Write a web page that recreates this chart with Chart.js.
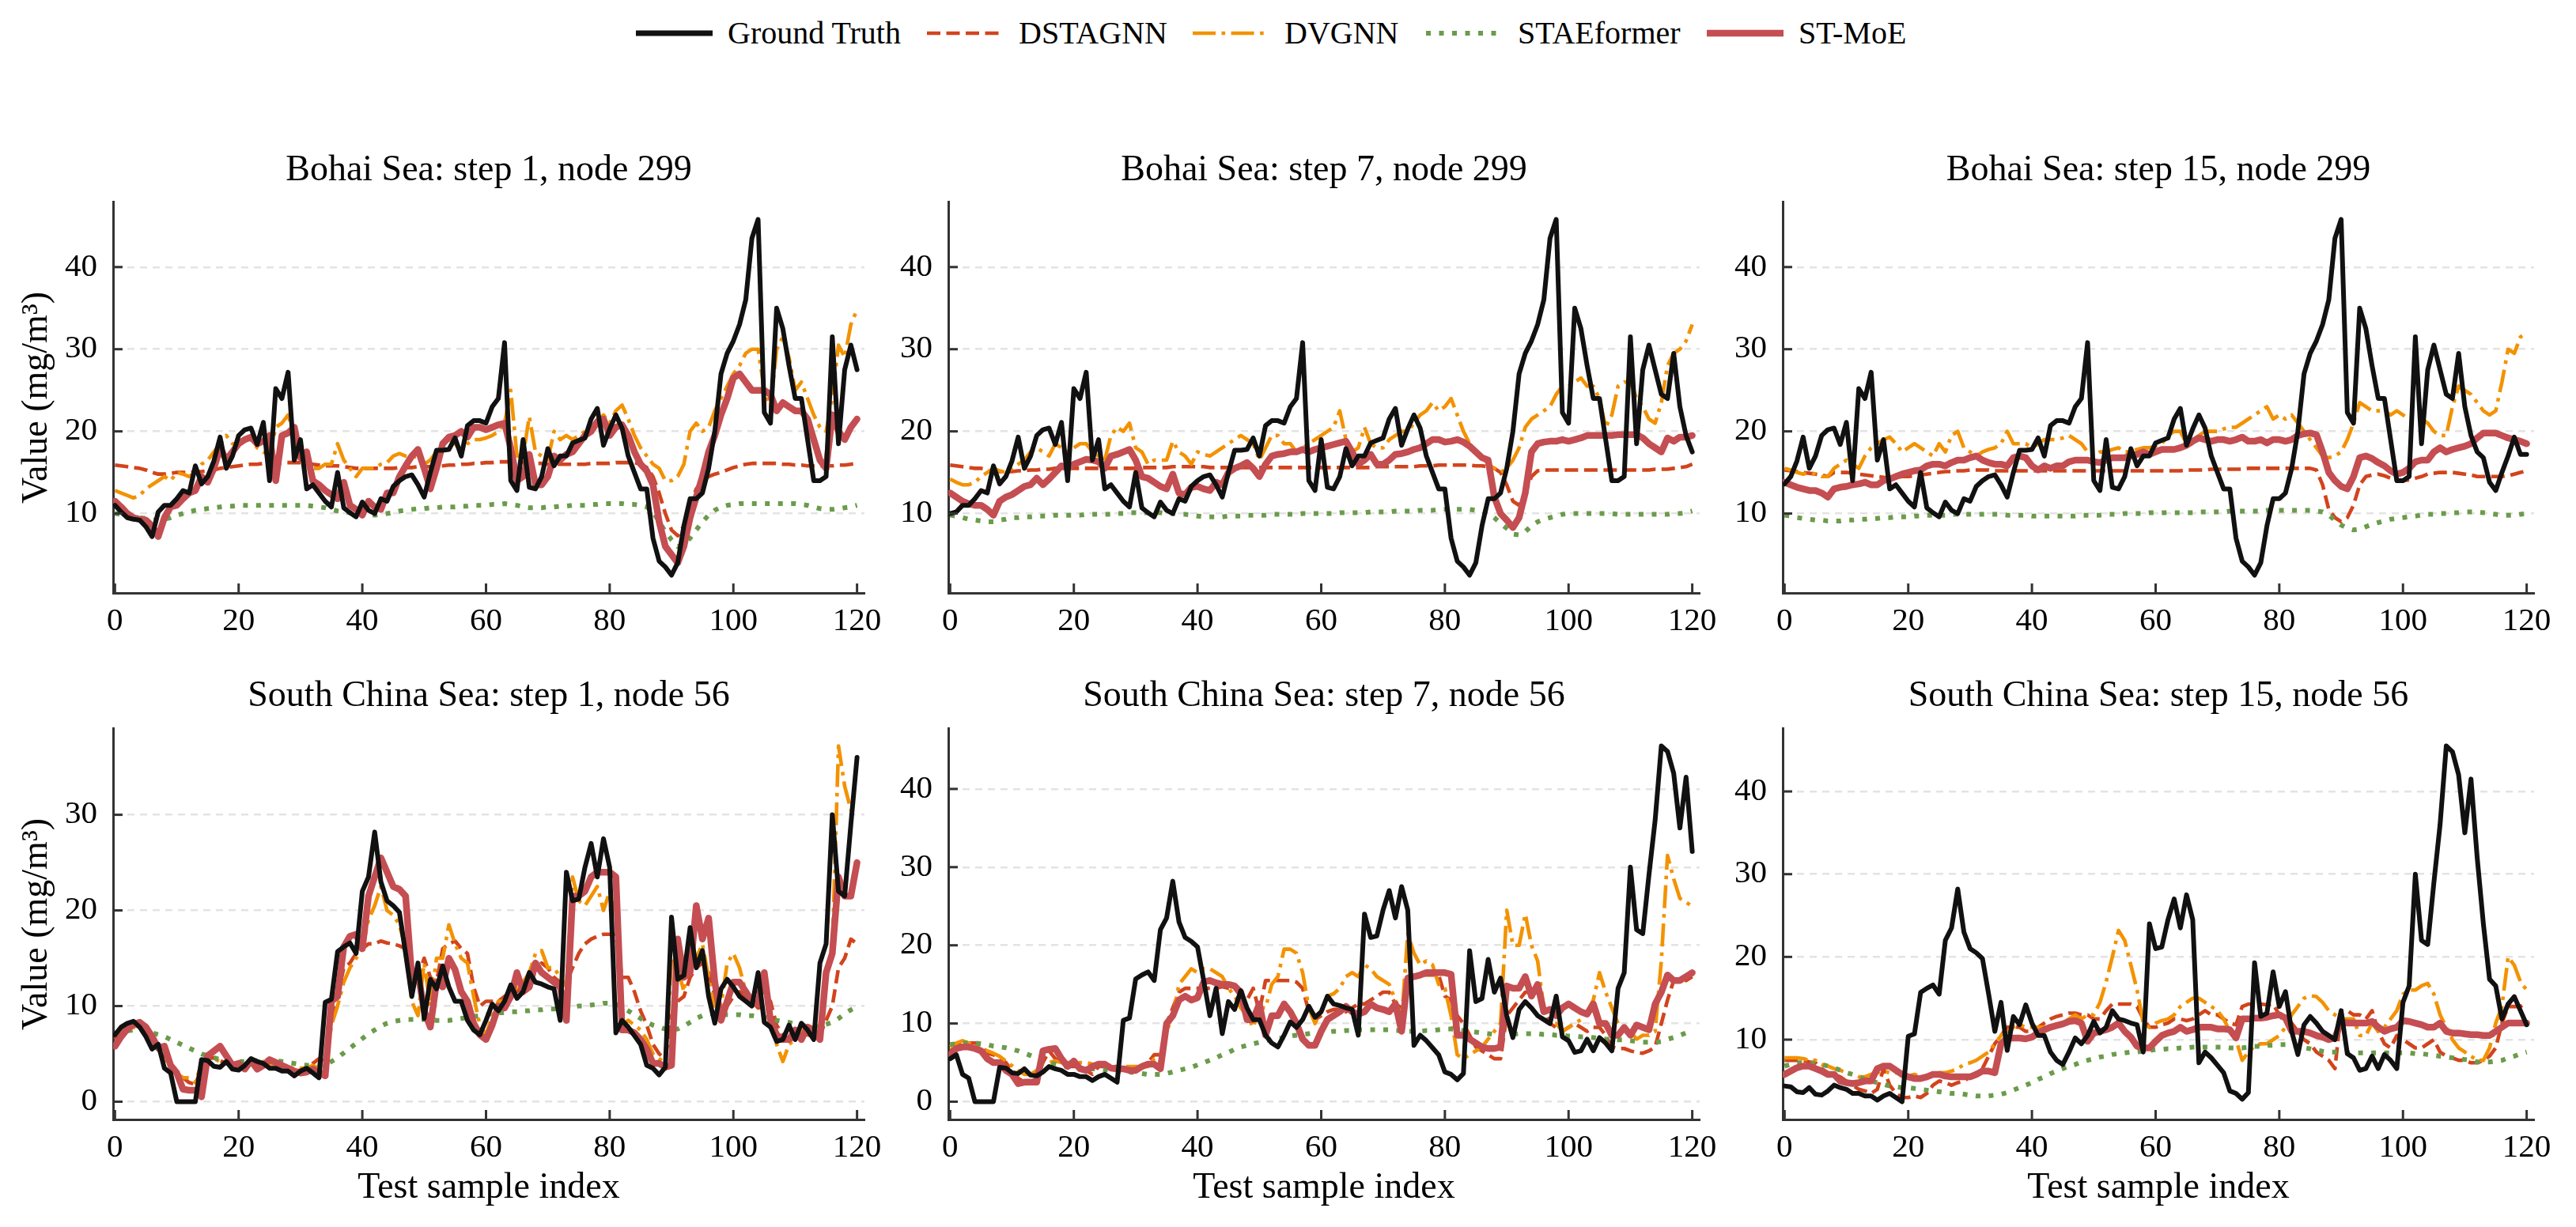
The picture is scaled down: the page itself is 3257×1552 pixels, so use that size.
<!DOCTYPE html>
<html><head><meta charset="utf-8">
<script src="https://cdn.jsdelivr.net/npm/chart.js@4.4.1/dist/chart.umd.min.js"></script>
<style>
html,body{margin:0;padding:0;background:#fff;}
#root{position:relative;width:3257px;height:1552px;overflow:hidden;background:#fff;font-family:"Liberation Serif","Times New Roman",serif;color:#000;}
.txt{position:absolute;white-space:nowrap;line-height:1;}
canvas{position:absolute;}
</style></head><body><div id="root"></div>
<script>
// ---------------- DATA ----------------
const seriesNames = ['Ground Truth','DSTAGNN','DVGNN','STAEformer','ST-MoE'];
const panelTitles = ['Bohai Sea: step 1, node 299','Bohai Sea: step 7, node 299','Bohai Sea: step 15, node 299',
  'South China Sea: step 1, node 56','South China Sea: step 7, node 56','South China Sea: step 15, node 56'];
const xTickValues = [0,20,40,60,80,100,120];
const yAxisLabel = 'Value (mg/m\u00B3)';
const xAxisLabel = 'Test sample index';

// Bohai Sea, step 1
const bohai_s1_gt = [11,10.2,9.5,9.3,9.2,8.4,7.2,10.2,11,11,
 11.8,12.8,12.5,15.8,13.6,14.5,16.4,19.3,15.5,17,
 19.5,20.2,20.4,18.4,21.1,14,25.2,24,27.2,16.5,
 19,13,13.5,12.5,11.5,10.8,15,10.7,10.1,9.6,
 11.4,10.4,10,11.8,11.5,13.3,14,14.5,14.7,13.5,
 12,15,17.7,17.7,17.8,19.2,17,20.7,21.3,21.3,
 21,23,24,30.8,14,12.8,19,13.2,13,14.5,
 17.9,15.8,17,17,18.6,18.9,19.2,21.5,22.8,18.3,
 20.3,22,20.4,17,15,13,13,7,4.2,3.5,
 2.5,4,8.5,11.8,11.8,12.5,15.5,20,27,29.5,
 31,33,36,43.5,45.8,22.3,21,35,32.5,28,
 24,24,19,14,14,14.5,31.5,18.5,27.5,30.5,
 27.5];
const bohai_s1_dstagnn = [15.9,15.8,15.7,15.6,15.5,15.3,15,14.8,14.8,14.9,
 15,15,15,15.1,15.1,15.2,15.3,15.5,15.6,15.7,
 15.8,15.9,16,16,16.1,16.1,16.1,16.2,16.2,16.2,
 16.2,16.1,16,15.9,15.8,15.8,15.8,15.7,15.6,15.5,
 15.5,15.5,15.5,15.5,15.5,15.5,15.6,15.6,15.6,15.7,
 15.7,15.7,15.8,15.8,15.9,15.9,16,16,16.1,16.1,
 16.2,16.2,16.3,16.3,16.3,16.3,16.2,16.2,16.1,16.1,
 16,16,16,16,16,16,16,16.1,16.1,16.1,
 16.1,16.2,16.2,16.2,16.2,16,15.6,14.5,12.5,10,
 8,7.3,8.5,11,13,14,14.5,14.8,15,15.3,
 15.6,15.8,16,16.1,16.1,16.1,16.1,16.1,16,16,
 15.9,15.9,15.8,15.8,15.8,15.8,15.8,15.9,15.9,16,
 16.1];
const bohai_s1_dvgnn = [12.8,12.5,12.2,11.9,12.2,13,13.5,14,14.5,14,
 15,14.8,14.5,15,16,16.5,17.5,18.5,19.5,18.5,
 18.5,19,19,18,17.5,17,20.5,21,22,19.5,
 18,17,15.5,15.5,16,16,18.5,16.5,15.5,14.5,
 15.5,15.5,15.5,16,16.2,17,17.3,17,17,16.8,
 16,16.5,17.5,18.5,19,18.5,17.5,18.5,19,19,
 19.2,19.5,20,21,25,17,17,21.8,17.5,17,
 16.5,20,19,19.5,19,19.5,20,20.5,21,22,
 21,22.5,23.2,21.5,19.5,18,17,16,15.5,14,
 14,14.5,16,20,21,20,20.5,22.5,24,25.5,
 27,28,29.5,30,30,25,23,30,31.5,29,
 25,26,24,22,20.5,20,24,30.5,29,33,
 34.8];
const bohai_s1_staeformer = [10,9.9,9.8,9.6,9.5,9.4,9.2,9.2,9.3,9.5,
 9.8,10,10.2,10.4,10.5,10.6,10.7,10.8,10.9,10.9,
 11,11,11,11,11,11,11,11,11,11,
 11,11,10.9,10.8,10.7,10.5,10.3,10.2,10.1,10,
 10,9.9,9.8,9.9,10,10.1,10.3,10.4,10.5,10.6,
 10.6,10.7,10.7,10.8,10.8,10.8,10.9,10.9,11,11,
 11,11.1,11.1,11.2,11.1,11,10.8,10.7,10.7,10.7,
 10.8,10.8,10.9,10.9,11,11,11,11.1,11.1,11.2,
 11.2,11.2,11.2,11.1,11.1,11,10.8,10.2,9,7.8,
 6.8,6,6.2,7,8,9,9.8,10.4,10.8,11,
 11.1,11.2,11.2,11.2,11.2,11.2,11.2,11.2,11.2,11.2,
 11.2,11.1,11,10.8,10.6,10.5,10.5,10.6,10.7,10.8,
 11];
const bohai_s1_stmoe = [11.5,10.8,10,9.5,9.3,9.2,8.5,7.2,9.5,10.8,
 11,11.8,12.5,12.8,14.5,13.8,15.5,18,16.5,17.5,
 18.5,19,19.3,18.5,18.8,19.5,14,19.5,19.8,20.5,
 16.8,17.5,14,13.5,12.8,12.3,11.8,13.8,11,10.5,
 9.8,11.5,10.8,10.5,12.5,12.5,14.5,15.8,17,17.8,
 15.5,13,15.5,18.5,19.3,19.5,20,19.3,20.5,20.5,
 20.2,20.5,20.8,21,18,14,14.5,17.2,13.5,13.5,
 14.5,17,16.5,17.2,17.5,18.5,19.5,20,21.2,21.5,
 19.5,20.5,20.8,19.5,17.5,16,15.2,13.5,9,6,
 5,4,6,9.5,12,14.5,17.5,19.5,22,24,
 26.5,27,26,25,25,25,24.5,22.5,23.5,23,
 22.5,22.5,21.5,19,16.5,15.5,22,20,19,20.5,
 21.5];

// Bohai Sea, step 7
const bohai_s7_gt = [10,10.2,11,11,11.8,12.8,12.5,15.8,13.6,14.5,
 16.4,19.3,15.5,17,19.5,20.2,20.4,18.4,21.1,14,
 25.2,24,27.2,16.5,19,13,13.5,12.5,11.5,10.8,
 15,10.7,10.1,9.6,11.4,10.4,10,11.8,11.5,13.3,
 14,14.5,14.7,13.5,12,15,17.7,17.7,17.8,19.2,
 17,20.7,21.3,21.3,21,23,24,30.8,14,12.8,
 19,13.2,13,14.5,17.9,15.8,17,17,18.6,18.9,
 19.2,21.5,22.8,18.3,20.3,22,20.4,17,15,13,
 13,7,4.2,3.5,2.5,4,8.5,11.8,11.8,12.5,
 15.5,20,27,29.5,31,33,36,43.5,45.8,22.3,
 21,35,32.5,28,24,24,19,14,14,14.5,
 31.5,18.5,27.5,30.5,27.5,24.5,24,29.5,23,19.5,
 17.5];
const bohai_s7_dstagnn = [15.9,15.8,15.7,15.6,15.5,15.5,15.3,15.1,15.1,15.1,
 15.1,15.2,15.2,15.3,15.3,15.4,15.4,15.5,15.5,15.5,
 15.5,15.5,15.5,15.5,15.5,15.5,15.5,15.5,15.5,15.5,
 15.5,15.6,15.6,15.6,15.6,15.6,15.7,15.7,15.7,15.7,
 15.7,15.7,15.6,15.6,15.6,15.6,15.6,15.6,15.6,15.6,
 15.6,15.6,15.6,15.6,15.6,15.6,15.6,15.6,15.6,15.6,
 15.6,15.6,15.6,15.6,15.6,15.6,15.6,15.6,15.6,15.7,
 15.7,15.7,15.7,15.7,15.7,15.7,15.8,15.8,15.8,15.9,
 15.9,15.9,15.9,15.9,15.9,15.8,15.8,15.7,15.5,15,
 13.5,11.5,11,12.5,14.5,15.2,15.3,15.3,15.3,15.3,
 15.3,15.3,15.3,15.3,15.3,15.3,15.3,15.3,15.3,15.3,
 15.3,15.3,15.3,15.3,15.4,15.4,15.4,15.5,15.6,15.7,
 16];
const bohai_s7_dvgnn = [14.2,13.8,13.5,13.5,13.8,14.5,15,15.5,15.2,15,
 15.5,16,16.5,17.5,18,17.5,17,18.5,18,17.5,
 18,18.5,18.5,17.5,17,16.5,19.5,20.5,20,21,
 18,17.5,16,16.5,16.5,16.5,18.8,17.5,17,16,
 17.5,17.2,17,17.5,18,18.5,19,19.5,19,18.5,
 16.5,18,19.5,19.5,18.5,18.5,17.5,18,18.5,19,
 19.5,20,20.5,22.5,19,17.5,18,20.5,18.5,18,
 18,19,19.5,20,20,21,22,22.5,23.5,22.5,
 23,24,22,20,18.5,17.5,17,16,15.5,15,
 15.5,16.5,18,20.5,21.5,22,22.5,23,24.5,25.5,
 25.5,26,26.5,25.5,25.5,24,20.5,22,25.5,26,
 26,24,23,21.5,21,23.5,28,29.5,30,31,
 33];
const bohai_s7_staeformer = [9.8,9.7,9.5,9.3,9.2,9.1,9,9,9.2,9.3,
 9.5,9.5,9.6,9.6,9.7,9.7,9.7,9.8,9.8,9.8,
 9.8,9.8,9.9,9.9,9.9,9.9,9.9,10,10,10.1,
 10.1,10.1,10.1,10.1,10.1,10,10,9.9,9.9,9.8,
 9.7,9.6,9.6,9.6,9.6,9.7,9.7,9.7,9.8,9.8,
 9.8,9.8,9.9,9.9,9.9,9.9,9.9,10,10,10,
 10,10,10,10.1,10.1,10.1,10.1,10.1,10.2,10.2,
 10.2,10.2,10.3,10.3,10.3,10.3,10.4,10.4,10.4,10.5,
 10.5,10.5,10.5,10.5,10.5,10.4,10.3,10.1,9.5,8.8,
 8.2,7.5,7.4,7.8,8.5,9,9.3,9.5,9.7,9.9,
 10,10,10,10,10,10,10,10,9.9,9.9,
 9.9,9.9,9.9,9.9,9.9,9.9,9.9,10,10,10.1,
 10.3];
const bohai_s7_stmoe = [12.5,12,11.5,11.2,11,11,10.5,9.8,11.5,12,
 12.3,12.8,13.3,13.5,14.3,13.5,14.2,15,15.8,15.5,
 16,16.3,16.6,16.5,16.3,15.5,17,17.2,17.5,17.8,
 16.5,14.5,14.3,13.8,13.3,13,14.8,12.5,12.3,13.2,
 13.3,13,12.8,13.8,13.5,15,15.5,15.8,16.2,15.5,
 14.5,16,17,17.2,17.3,17.5,17.5,17.8,17.5,17.8,
 18,18.2,18.4,18.6,18.8,17.5,16,16.5,17.2,16,
 16,16.5,17.2,17.3,17.5,17.8,18,18.5,19,19,
 18.7,18.8,19,18.7,18.2,17.5,16.8,16.5,12,10,
 9.2,8.3,9.5,12.5,17.5,18.5,18.7,18.8,18.8,19,
 18.8,19,19.2,19.5,19.5,19.5,19.5,19.5,19.6,19.6,
 19.6,19.6,19.2,18.5,18,17.5,19.2,18.8,19.3,19.3,
 19.5];

// Bohai Sea, step 15
const bohai_s15_gt = [13.6,14.5,16.4,19.3,15.5,17,19.5,20.2,20.4,18.4,
 21.1,14,25.2,24,27.2,16.5,19,13,13.5,12.5,
 11.5,10.8,15,10.7,10.1,9.6,11.4,10.4,10,11.8,
 11.5,13.3,14,14.5,14.7,13.5,12,15,17.7,17.7,
 17.8,19.2,17,20.7,21.3,21.3,21,23,24,30.8,
 14,12.8,19,13.2,13,14.5,17.9,15.8,17,17,
 18.6,18.9,19.2,21.5,22.8,18.3,20.3,22,20.4,17,
 15,13,13,7,4.2,3.5,2.5,4,8.5,11.8,
 11.8,12.5,15.5,20,27,29.5,31,33,36,43.5,
 45.8,22.3,21,35,32.5,28,24,24,19,14,
 14,14.5,31.5,18.5,27.5,30.5,27.5,24.5,24,29.5,
 23,19.5,17.5,16.8,13.8,12.8,15,17,19.3,17.2,
 17.2];
const bohai_s15_dstagnn = [15.3,15.2,15.1,15,14.9,14.8,14.7,14.5,15,15,
 15,14.9,14.8,14.7,14.6,14.5,14.4,14.3,14.4,14.5,
 14.5,14.6,14.7,14.8,14.9,15,15.1,15.1,15.2,15.2,
 15.3,15.3,15.3,15.3,15.2,15.2,15.2,15.2,15.2,15.2,
 15.2,15.2,15.2,15.2,15.2,15.2,15.2,15.2,15.2,15.2,
 15.2,15.2,15.2,15.2,15.2,15.2,15.2,15.2,15.2,15.2,
 15.2,15.2,15.2,15.2,15.2,15.3,15.3,15.3,15.3,15.4,
 15.4,15.4,15.4,15.4,15.4,15.5,15.5,15.5,15.5,15.5,
 15.5,15.5,15.5,15.5,15.5,15.5,15.3,13.5,10.5,9.5,
 9,9.5,11,13.5,14.5,14.7,14.8,14.6,14.3,14.1,
 14,14.1,14.3,14.5,14.8,14.9,15,15,15,14.9,
 14.8,14.7,14.5,14.5,14.5,14.5,14.5,14.6,14.8,15,
 15.2];
const bohai_s15_dvgnn = [15.5,15.3,15,14.8,15,14.8,14.5,14.5,15.5,16,
 16.5,16,15.5,17,18,18.5,19,19.3,18.5,17.5,
 18,18.5,18,17.5,17,18.5,17.5,19.5,20,18,
 17.5,17,17.5,17.8,18,18.5,20,18.5,18.5,18.5,
 18,18.5,19,19,19,19.2,19.5,19,18.5,17.5,
 17,17.5,17.5,17.8,18,17.5,17.5,17.8,18,18,
 18.2,18.5,19.5,20,20,18.5,19,19.5,20,20,
 20,20.3,20.5,20.5,21,21.5,22,22.5,23,21.5,
 22,21.5,22,21,20,19,18,17,16.8,17,
 17.5,19,21,23.5,23,22.5,22.5,22.5,22,22.5,
 22,21.5,21.5,21.5,21,20,19.5,19.5,23,25.5,
 25,24.5,23.5,22.5,22,22.5,26,30,29.5,31.5,
 32];
const bohai_s15_staeformer = [9.8,9.7,9.5,9.4,9.3,9.2,9.2,9.1,9.1,9.1,
 9.2,9.2,9.3,9.3,9.4,9.4,9.5,9.5,9.6,9.6,
 9.6,9.7,9.7,9.8,9.8,9.8,9.8,9.9,9.9,9.9,
 9.9,9.9,9.9,9.9,9.9,9.9,9.8,9.8,9.8,9.8,
 9.7,9.7,9.7,9.7,9.7,9.7,9.7,9.7,9.8,9.8,
 9.8,9.8,9.9,9.9,9.9,10,10,10,10,10.1,
 10.1,10.1,10.1,10.1,10.1,10.1,10.1,10.2,10.2,10.2,
 10.2,10.2,10.3,10.3,10.3,10.3,10.3,10.3,10.4,10.4,
 10.4,10.4,10.4,10.4,10.4,10.4,10.3,10.2,9.8,9.2,
 8.6,8.2,8,8.1,8.4,8.7,8.9,9.1,9.3,9.4,
 9.5,9.6,9.7,9.8,9.9,9.9,10,10,10.1,10.1,
 10.2,10.2,10.2,10.1,10,9.9,9.8,9.8,9.8,9.9,
 10];
const bohai_s15_stmoe = [13.8,13.5,13.2,13,12.8,12.8,12.5,12,13,13.2,
 13.3,13.5,13.6,13.8,13.5,13.5,14,14.2,14.5,14.8,
 15,15.2,15.3,15.8,16,16,15.8,16.2,16.5,16.5,
 16.8,17,16.5,16.2,16,16,15.8,16.8,17,16.8,
 15.8,15.3,15.8,15.5,15.8,15.8,16.3,16.5,16.5,16.5,
 16.3,16.2,16.5,16.8,16.8,16.8,17,17.2,17.5,17.2,
 17.5,17.8,17.8,17.8,18,18.3,18.8,19.2,19,18.8,
 19,19,18.8,19,19.3,18.8,18.8,19,18.6,19,
 19,18.8,19,19.5,19.7,19.8,19.6,17.5,15,14,
 13.3,13,14.5,16.8,17,16.7,16.2,15.8,15.2,14.8,
 15,15.5,16.3,16.5,16.5,17.5,18,17.5,17.8,18,
 18.2,18.5,19.2,19.8,19.8,19.8,19.5,19.2,19,18.8,
 18.5];

// South China Sea, step 1
const scs_s1_gt = [7,7.8,8.2,8.4,7.8,6.8,5.5,6,3.5,3,
 0,0,0,0,4.4,4.3,3.7,3.6,4.2,3.4,
 3.3,3.8,4.5,4.2,4,3.5,3.5,3.2,3.2,2.7,
 3.2,3.5,3,2.5,10.4,10.7,15.7,16.2,16.6,15.5,
 22,23.5,28.2,23,21,20.5,19.8,15.5,11,14.5,
 8.7,12.8,11.8,14.2,12,10.5,10.5,8.5,7.5,7,
 8.5,10.2,9.5,10.5,12.2,10.8,11.5,13.5,12.5,12.3,
 12,11.8,8.5,24,21,21.2,24.5,27,23.5,27.5,
 24.5,7.2,8.5,7.8,6.9,6,3.8,3.5,2.8,3.6,
 19.3,12.8,13.2,18.2,14,15.8,11,8.2,11.8,12.8,
 12,11,10.5,10,13.5,8.3,7.8,6.3,6.5,8,
 6.5,8.2,7.5,6.5,14.5,16.5,30,22,21.5,29,
 36];
const scs_s1_dstagnn = [6.5,7.2,7.8,8,7.8,7.5,6.5,5.5,4.5,3.8,
 3,2.5,2,1.8,3.5,4.5,4.6,4.3,4,3.8,
 3.5,3.8,4,4,4,3.8,3.6,3.5,3.3,3.2,
 3.3,3.5,4,4.5,4.2,9,11,14,14.5,15.5,
 16,16.5,16.5,16.8,16.6,16.5,16.3,16,13.5,13,
 15,13,12.5,16,16.5,16.8,16,15.5,12,10,
 10.5,10.5,10.5,11,11.5,11.5,12,13,14,14.5,
 14,13,12.5,12.5,14,15.5,16.5,17,17.3,17.5,
 17.5,17.5,13,13,11.5,9.5,8,6,5,4.5,
 9,10.5,11,13,14,14.5,13.5,11,10,10,
 11,11.5,11,10.5,9.8,10,10.5,8,7,6.5,
 6.5,7,7,6.8,7,8.5,10,14,15,17,
 16.5];
const scs_s1_dvgnn = [7,7.5,7.8,7.8,7.5,7.2,6.8,5.5,4.5,3.5,
 3,2.5,2.5,2,4,4.5,4.5,4.2,4,3.8,
 3.8,3.8,4,4.2,4.2,4,3.8,3.8,3.6,3.5,
 3.5,3.5,3.8,3.5,3.2,8,10,12.5,14,15,
 16,19,20.5,22.5,20,19.5,18.5,16,10.5,9,
 14.5,10,15,15,18.5,16.5,15,14.5,11,8,
 7,9,10.5,10.5,11,12,12.5,13.5,15.5,15.8,
 14,14,13,12,23.5,21,20.5,21.5,22.5,20,
 22,20,8,8.5,8,7.5,6.5,5,4.5,4,
 15,14,11.5,16.5,15,16.5,13,10,10,14.5,
 15.5,14,11.5,10,12,12.5,8,6,4.2,6,
 6.5,7.5,7.5,7.5,8,13,16,37.2,33,30.5,
 31];
const scs_s1_staeformer = [7.2,7.3,7.4,7.5,7.5,7.4,7.2,7,6.8,6.5,
 6.2,5.9,5.6,5.3,5,4.8,4.6,4.4,4.3,4.2,
 4.2,4.2,4.2,4.3,4.3,4.3,4.3,4.2,4.1,4,
 3.9,3.8,3.8,3.8,3.9,4.2,4.6,5.1,5.6,6.1,
 6.6,7.1,7.5,7.9,8.2,8.4,8.5,8.6,8.6,8.6,
 8.6,8.6,8.5,8.5,8.5,8.6,8.7,8.8,8.9,9,
 9.1,9.2,9.3,9.3,9.4,9.4,9.5,9.5,9.6,9.6,
 9.7,9.7,9.8,9.8,9.9,10,10,10.1,10.2,10.3,
 10.3,10.2,9.9,9.5,9.1,8.7,8.3,8,7.8,7.6,
 7.5,7.6,7.9,8.3,8.7,9,9.2,9.2,9.2,9.1,
 9.1,9.1,9,9,8.9,8.8,8.7,8.5,8.4,8.3,
 8.1,8,7.9,7.8,7.9,8.1,8.3,8.7,9.2,9.6,
 9.9];
const scs_s1_stmoe = [5.8,6.8,7.6,8.1,8.3,7.8,6.8,5.6,5.8,3.8,
 3,1.3,1.2,1.2,0.5,4.8,5.3,5.8,4.8,3.8,
 4,3.4,4.3,3.4,3.8,4.4,4.1,3.8,3.5,3.2,
 3,3.1,3.4,3.1,2.7,10.5,11,16.2,17.3,17.5,
 16,21.5,23.5,25.5,24,22.5,22.2,21.5,13,13.5,
 9.5,7.8,12.5,12,15,13.8,11.5,10.5,8.2,7,
 6.5,8,10,9.8,11,13.5,11.5,12,14.5,13.5,
 13,12.5,12,8.5,21.5,21.5,22,23.5,24,24,
 24,23.5,7.5,7.5,7.2,6.5,5.5,4,4,3.6,
 3.8,17,13,13.5,20.5,17,19.2,12.5,8.5,10.5,
 12.5,12.5,11.5,10.5,10.2,13.5,8.5,7,6.5,6.5,
 7.5,6.5,7.8,7.5,6.5,13.5,15.5,23.5,21.5,21.5,
 25];

// South China Sea, step 7
const scs_s7_gt = [5.5,6,3.5,3,0,0,0,0,4.4,4.3,
 3.7,3.6,4.2,3.4,3.3,3.8,4.5,4.2,4,3.5,
 3.5,3.2,3.2,2.7,3.2,3.5,3,2.5,10.4,10.7,
 15.7,16.2,16.6,15.5,22,23.5,28.2,23,21,20.5,
 19.8,15.5,11,14.5,8.7,12.8,11.8,14.2,12,10.5,
 10.5,8.5,7.5,7,8.5,10.2,9.5,10.5,12.2,10.8,
 11.5,13.5,12.5,12.3,12,11.8,8.5,24,21,21.2,
 24.5,27,23.5,27.5,24.5,7.2,8.5,7.8,6.9,6,
 3.8,3.5,2.8,3.6,19.3,12.8,13.2,18.2,14,15.8,
 11,8.2,11.8,12.8,12,11,10.5,10,13.5,8.3,
 7.8,6.3,6.5,8,6.5,8.2,7.5,6.5,14.5,16.5,
 30,22,21.5,29,36,45.5,44.8,42,35,41.5,
 32];
const scs_s7_dstagnn = [6.5,7,7.5,7.5,7.5,7.3,6.2,6,5.5,5,
 4,3,2.5,2.5,3,5,6.5,5.5,5,4.5,
 4.5,4.5,4,3.5,4.5,4.5,4.5,4.5,4.3,4.2,
 4.3,4.5,5,6,6,10,12,14,14.5,14.5,
 14.5,14.5,14.5,14.5,14.7,14.5,14.5,13.5,13,14.5,
 11.5,15.5,15.5,15.5,15.5,15.5,15.3,14.5,11.5,10.5,
 11,11.5,11.8,11.8,11.5,12,12.5,12.5,13,13.5,
 14,14,12.5,12,16,16,16.2,16.2,16.2,16.2,
 13.5,13,11,10,8.5,7,6.5,6,5.5,5.5,
 11,12,13,14,14,15,12,10,9.5,9,
 9.5,10,9.5,9,9.5,9.5,8.5,7,6.8,6.8,
 6.5,6.3,6.2,6.5,7,10,13,15.5,15.5,15.5,
 16];
const scs_s7_dvgnn = [7,7.5,7.8,7.5,7.2,6.8,6.5,6.2,5.8,5.2,
 4.6,4,3.5,3.5,4,5,5,5.2,5,5,
 5,5,5,4.8,4.7,4.7,4.6,4.5,4.5,4.5,
 4.5,4.5,4.5,5.5,6,9,11,15,16,17,
 16.5,17,17,16.5,16,14.5,13.5,12,11,9.5,
 12,12,15,16,19.5,19.5,19,16.5,12,10,
 11.5,13.5,13.8,14.5,16,16.5,16,17.5,17,16,
 15.5,15,13,10.5,21.5,19,17.5,18,17.5,15,
 14.5,11,6,5.5,6,6.5,7,8,9,10,
 24.5,20,20,24,20,18,12,10,10,9,
 9.5,10,10.5,11.5,13,16.5,14,12,10,9.5,
 9,8,8.5,8.5,9,18,31.5,28.5,26,25.5,
 25];
const scs_s7_staeformer = [7.3,7.4,7.5,7.5,7.5,7.4,7.3,7.1,7,6.9,
 6.7,6.5,6.2,5.9,5.6,5.3,5,4.8,4.6,4.5,
 4.4,4.3,4.3,4.2,4.2,4.1,4,3.9,3.8,3.8,
 3.7,3.6,3.5,3.5,3.5,3.6,3.8,4,4.2,4.4,
 4.7,5,5.3,5.6,6,6.3,6.7,7,7.2,7.4,
 7.6,7.8,8,8.1,8.2,8.4,8.5,8.6,8.7,8.8,
 8.8,8.9,9,9,9.1,9.1,9.2,9.2,9.2,9.2,
 9.2,9.2,9.1,9.1,9,9,9,9.1,9.1,9.2,
 9.3,9.3,9.2,9.1,9,8.9,8.8,8.7,8.6,8.6,
 8.6,8.6,8.7,8.7,8.7,8.7,8.6,8.6,8.5,8.5,
 8.4,8.4,8.3,8.3,8.2,8.1,8,8,7.9,7.9,
 7.8,7.7,7.6,7.6,7.6,7.7,8,8.2,8.5,8.8,
 9];
const scs_s7_stmoe = [6,6.8,7,7,6.8,6.5,5.5,5,5,4,
 3.5,2.3,2.5,2.5,2.5,6.5,6.7,6.8,5.5,4.5,
 5.2,4.2,4,4.5,4.8,4.8,4.3,4.2,4.2,4,
 4,4.5,4.8,4.8,4.2,10,11,13,13.5,13,
 13.3,15.3,15.5,15.2,15,15,14.8,14,10.5,10.5,
 12.5,8.5,11,11,12.5,11.5,10,8,7.2,7.2,
 9,10.5,11,11.5,12.2,11.5,11.2,11.5,12.5,12,
 11.8,11.5,12.5,9,15.8,16,16.2,16.5,16.5,16.5,
 16.5,16.3,8.5,8.5,8,7.5,7,6.8,6.8,7,
 14.8,14.5,14.5,16,13.5,15,11.5,11.8,11,12,
 12.5,12,11.5,11.2,12.5,10,10,8.5,8.5,9.5,
 8.5,9.8,9.5,9.2,12.5,14,16.2,15.5,15.5,16,
 16.5];

// South China Sea, step 15
const scs_s15_gt = [4.4,4.3,3.7,3.6,4.2,3.4,3.3,3.8,4.5,4.2,
 4,3.5,3.5,3.2,3.2,2.7,3.2,3.5,3,2.5,
 10.4,10.7,15.7,16.2,16.6,15.5,22,23.5,28.2,23,
 21,20.5,19.8,15.5,11,14.5,8.7,12.8,11.8,14.2,
 12,10.5,10.5,8.5,7.5,7,8.5,10.2,9.5,10.5,
 12.2,10.8,11.5,13.5,12.5,12.3,12,11.8,8.5,24,
 21,21.2,24.5,27,23.5,27.5,24.5,7.2,8.5,7.8,
 6.9,6,3.8,3.5,2.8,3.6,19.3,12.8,13.2,18.2,
 14,15.8,11,8.2,11.8,12.8,12,11,10.5,10,
 13.5,8.3,7.8,6.3,6.5,8,6.5,8.2,7.5,6.5,
 14.5,16.5,30,22,21.5,29,36,45.5,44.8,42,
 35,41.5,32,24,17.3,16.5,12.5,14.3,15.2,13.5,
 11.8];
const scs_s15_dstagnn = [7.5,7.5,7.5,7.5,7.3,7.2,6.5,6,5.8,5.5,
 5,4.5,4,3.8,3.5,4,6.5,4.5,3.5,3,
 3,3.2,3,3.5,4.5,5,4.8,4.5,4.8,5,
 5.5,6,6.5,8,9.5,10.5,11.5,11.5,11.5,11,
 11,11.5,12,12.5,12.8,13,13.2,13.2,13,13,
 12.5,12.5,13.5,14.3,14.3,14.3,14.3,14,12.5,11.5,
 11.5,11.8,12,12.5,12.5,12.3,12.5,13,13.5,13,
 13,12.5,12,11.8,14,14.3,14.3,14.3,14.2,14.3,
 13,12,12,11,10,9.5,8.5,8,7.5,6.5,
 13.5,13.5,13,13,12.5,13.5,11,9.5,9,10.5,
 10,9.5,9,9,9.5,10,8.5,8,7.8,7.5,
 7.5,7.2,7.2,7.5,8,9,12,14,14,14,
 14.5];
const scs_s15_dvgnn = [7.8,7.8,7.8,7.7,7.5,7.5,7,6.8,6.5,6.3,
 6,5.8,5.5,5.5,5.8,6,6.2,6,6,5.8,
 5.6,5.8,5.5,5.5,5.8,6,6,6.2,6.5,7,
 7.2,7.5,8,8.5,9.5,10.5,11,11.5,11.8,11.5,
 11.5,11.5,11.5,11.5,11.5,12,12.5,13,12.5,13,
 13,14.5,17,20,23.2,22,19,16,12,11.5,
 12,12.3,12.5,13,14,14.5,15,15,14.5,14,
 13.5,12.5,11,10,7.5,8.5,9.2,9.5,9.5,10,
 10.5,11.5,13,14,15,15.3,15.2,14.5,13.5,13,
 12.5,12.5,12.5,10.5,10.5,12,11,11.5,12.5,13.5,
 15.5,16,16,16.5,16.8,15.5,13,11.5,10,9,
 8.5,8,7.5,7.5,9,12,14,20,19,17,
 16];
const scs_s15_staeformer = [6.8,7,7.2,7.2,7.2,7.1,7,6.8,6.6,6.3,
 6,5.8,5.5,5.2,5,4.8,4.6,4.4,4.3,4.2,
 4.2,4.1,4,3.9,3.8,3.7,3.6,3.5,3.5,3.4,
 3.3,3.2,3.2,3.2,3.3,3.4,3.6,3.9,4.2,4.5,
 4.8,5.2,5.5,5.9,6.2,6.5,6.8,7,7.3,7.5,
 7.7,7.9,8,8.2,8.3,8.4,8.5,8.5,8.6,8.7,
 8.8,8.8,8.9,8.9,9,9,9.1,9.1,9.1,9.1,
 9.1,9.1,9,9,9,9.1,9.2,9.2,9.3,9.3,
 9.4,9.4,9.3,9.2,9,8.9,8.7,8.6,8.5,8.5,
 8.4,8.4,8.4,8.4,8.4,8.4,8.4,8.4,8.4,8.4,
 8.4,8.4,8.3,8.3,8.2,8.1,8,7.9,7.8,7.7,
 7.6,7.5,7.3,7.3,7.3,7.4,7.5,7.8,8,8.3,
 8.5];
const scs_s15_stmoe = [5.8,6.2,6.6,6.8,6.8,6.5,6.2,5.8,5.8,5,
 4.8,4.7,4.8,5,5,6.5,6.8,6.8,6.3,5.8,
 5.5,5.3,5.3,5.5,5.8,5.8,5.6,5.5,5.5,5.5,
 5.5,5.8,6.2,6.2,6,9.5,10.2,10.2,10.2,10.1,
 10.3,10.8,11.2,11.5,11.7,11.9,12.2,12.3,12,9.8,
 10.8,11,11.2,11.5,12,11,10.3,9.2,9,9,
 9.8,10.5,10.8,11,11.5,11,11.2,11.5,11.5,11.5,
 11.3,11.3,11.2,10.2,12.5,12.5,12.6,12.6,12.7,12.9,
 13,12.6,11,11,11,10.8,10.5,10.3,10,10.2,
 12.2,12,12,12,12,12.2,11.5,11,11.3,11.5,
 12.3,12.2,12,11.8,11.5,11.5,12,11,10.8,10.8,
 10.7,10.6,10.6,10.5,10.5,11,11.5,12,12,12,
 12];

// ---------------- STYLE / LAYOUT ----------------
const seriesStyle = {
  'Ground Truth': {color:'#111111', width:6,   dash:[],            order:0, cap:'round'},
  'DSTAGNN':      {color:'#d2441d', width:4.6, dash:[17,7.5],      order:4, cap:'butt'},
  'DVGNN':        {color:'#f39200', width:4.6, dash:[29,7.5,4.6,7.5], order:3, cap:'butt'},
  'STAEformer':   {color:'#6b9b4b', width:6,   dash:[6,10.5],      order:2, cap:'butt'},
  'ST-MoE':       {color:'#c44e52', width:8.5, dash:[],            order:1, cap:'round'}
};
const panels = [
  [bohai_s1_gt,bohai_s1_dstagnn,bohai_s1_dvgnn,bohai_s1_staeformer,bohai_s1_stmoe],
  [bohai_s7_gt,bohai_s7_dstagnn,bohai_s7_dvgnn,bohai_s7_staeformer,bohai_s7_stmoe],
  [bohai_s15_gt,bohai_s15_dstagnn,bohai_s15_dvgnn,bohai_s15_staeformer,bohai_s15_stmoe],
  [scs_s1_gt,scs_s1_dstagnn,scs_s1_dvgnn,scs_s1_staeformer,scs_s1_stmoe],
  [scs_s7_gt,scs_s7_dstagnn,scs_s7_dvgnn,scs_s7_staeformer,scs_s7_stmoe],
  [scs_s15_gt,scs_s15_dstagnn,scs_s15_dvgnn,scs_s15_staeformer,scs_s15_stmoe]
];
const colLeft = [143, 1199, 2254];
const rowTop = [255, 921];
const PW = 950, PH = 495;
const YAX = 130, XAX = 80, PADT = 50, PADR = 55;
const titleCenterY = [213, 878];
const FONT = 'Liberation Serif, Times New Roman, serif';

const root = document.getElementById('root');
function addText(str, x, y, size, extra) {
  const d = document.createElement('div');
  d.className = 'txt';
  d.textContent = str;
  d.style.fontSize = size + 'px';
  d.style.left = x + 'px';
  d.style.top = y + 'px';
  d.style.transform = extra || 'translate(-50%,-50%)';
  root.appendChild(d);
  return d;
}

// Legend
const legendTextLeft = [920, 1288, 1624, 1919, 2274];
const legendY = 42;
seriesNames.forEach((name, k) => {
  const st = seriesStyle[name];
  const svgNS = 'http://www.w3.org/2000/svg';
  const svg = document.createElementNS(svgNS, 'svg');
  svg.setAttribute('width', 97); svg.setAttribute('height', 20);
  svg.style.position = 'absolute';
  svg.style.left = (legendTextLeft[k] - 116) + 'px';
  svg.style.top = (legendY - 10) + 'px';
  const ln = document.createElementNS(svgNS, 'line');
  ln.setAttribute('x1', 0); ln.setAttribute('x2', 97);
  ln.setAttribute('y1', 10); ln.setAttribute('y2', 10);
  ln.setAttribute('stroke', st.color);
  ln.setAttribute('stroke-width', name === 'Ground Truth' ? 7 : st.width);
  if (st.dash.length) ln.setAttribute('stroke-dasharray', st.dash.join(' '));
  svg.appendChild(ln);
  root.appendChild(svg);
  addText(name, legendTextLeft[k], legendY, 40, 'translate(0,-50%)');
});

// inward ticks plugin
const inwardTicks = {
  id: 'inwardTicks',
  afterDatasetsDraw(chart) {
    const ctx = chart.ctx, a = chart.chartArea, xs = chart.scales.x, ys = chart.scales.y;
    ctx.save();
    ctx.strokeStyle = '#333333'; ctx.lineWidth = 3;
    xs.ticks.forEach(t => { const p = xs.getPixelForValue(t.value);
      ctx.beginPath(); ctx.moveTo(p, a.bottom); ctx.lineTo(p, a.bottom - 12); ctx.stroke(); });
    ys.ticks.forEach(t => { const p = ys.getPixelForValue(t.value);
      ctx.beginPath(); ctx.moveTo(a.left, p); ctx.lineTo(a.left + 12, p); ctx.stroke(); });
    ctx.restore();
  }
};

Chart.defaults.font.family = FONT;
Chart.defaults.font.size = 41;
Chart.defaults.color = '#000';
const tickFont = {family: FONT, size: 41, weight: 'normal'};

panels.forEach((series, pi) => {
  const col = pi % 3, row = Math.floor(pi / 3);
  const left = colLeft[col], top = rowTop[row];
  const cv = document.createElement('canvas');
  const cw = YAX + PW + PADR, ch = PADT + PH + XAX;
  cv.width = cw; cv.height = ch;
  cv.style.width = cw + 'px'; cv.style.height = ch + 'px';
  cv.style.left = (left - YAX) + 'px'; cv.style.top = (top - PADT) + 'px';
  root.appendChild(cv);

  let lo = Infinity, hi = -Infinity;
  series.forEach(s => s.forEach(v => { if (v < lo) lo = v; if (v > hi) hi = v; }));
  const pad = (hi - lo) * 0.05;
  const ymin = lo - pad, ymax = hi + pad;
  const yt = [];
  for (let v = Math.ceil(ymin / 10) * 10; v <= ymax; v += 10) yt.push(v);

  const datasets = seriesNames.map((name, k) => {
    const st = seriesStyle[name];
    return {
      label: name,
      data: series[k].map((v, i) => ({x: i, y: v})),
      borderColor: st.color, backgroundColor: st.color,
      borderWidth: st.width, borderDash: st.dash,
      borderCapStyle: st.cap, borderJoinStyle: 'round',
      pointRadius: 0, tension: 0, fill: false, order: st.order
    };
  });

  new Chart(cv, {
    type: 'line',
    data: {datasets},
    options: {
      responsive: false, animation: false, events: [],
      layout: {padding: {top: PADT, right: PADR, left: 0, bottom: 0}},
      plugins: {legend: {display: false}, tooltip: {enabled: false}, title: {display: false}},
      scales: {
        x: {
          type: 'linear', min: -0.3, max: 121.2,
          afterBuildTicks: s => { s.ticks = xTickValues.map(v => ({value: v})); },
          afterFit: s => { s.height = XAX; },
          grid: {display: false, drawTicks: false},
          border: {display: true, color: '#333333', width: 3},
          ticks: {padding: 12, maxRotation: 0, autoSkip: false, font: tickFont, color: '#000'}
        },
        y: {
          type: 'linear', min: ymin, max: ymax,
          afterBuildTicks: s => { s.ticks = yt.map(v => ({value: v})); },
          afterFit: s => { s.width = YAX; },
          grid: {display: true, color: '#e3e3e3', lineWidth: 2.5, drawTicks: false},
          border: {display: true, color: '#333333', width: 3, dash: [9, 7]},
          ticks: {padding: 20, autoSkip: false, font: tickFont, color: '#000'}
        }
      }
    },
    plugins: [inwardTicks]
  });

  addText(panelTitles[pi], left + PW / 2, titleCenterY[row], 46);
  if (col === 0) addText(yAxisLabel, 44, top + PH / 2, 46, 'translate(-50%,-50%) rotate(-90deg)');
  if (row === 1) addText(xAxisLabel, left + PW / 2, 1500, 46);
});
</script>
</body></html>
